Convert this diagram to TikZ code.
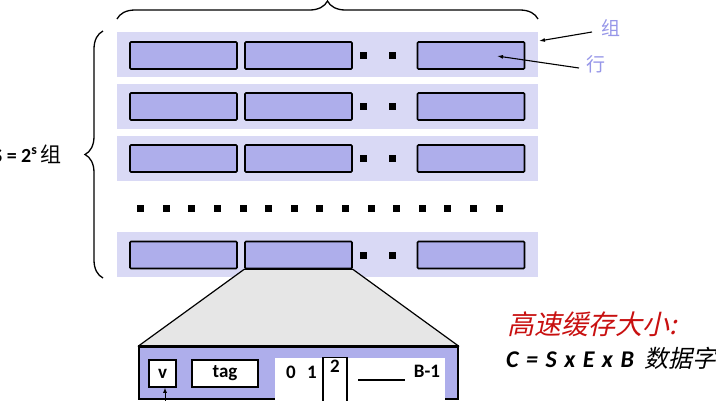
\documentclass[tikz,border=0pt]{standalone}
\usepackage{fontspec}
\setmainfont{Carlito}
\newfontfamily\cjk{Noto Sans CJK SC}
\newfontfamily\cjkit{Noto Sans CJK SC}[FakeSlant=0.22]
\usetikzlibrary{decorations.pathreplacing,arrows.meta}
\definecolor{rowbg}{RGB}{217,217,245}
\definecolor{cellfill}{RGB}{174,174,235}
\definecolor{trapgray}{RGB}{230,230,230}
\definecolor{lblue}{RGB}{150,150,232}
\definecolor{cred}{RGB}{200,16,16}
\tikzset{
  rowbox/.style={fill=rowbg,inner sep=0pt,minimum width=421pt,minimum height=45pt},
  cell/.style={fill=cellfill,draw=black,line width=1.6pt,rounded corners=1pt,inner sep=0pt,minimum width=107pt,minimum height=27pt},
  sq/.style={fill=black,inner sep=0pt,minimum size=7pt},
  wbox/.style={fill=white,draw=black,line width=1.5pt,inner sep=0pt},
  brc/.style={decorate,decoration={brace,amplitude=18pt},line width=1.3pt},
  arr/.style={-{Latex[length=6pt,width=4pt]},line width=1.1pt},
  btxt/.style={font=\fontsize{19}{19}\selectfont\bfseries,inner sep=0pt}
}
\newcommand{\gsp}{\hspace{7.5pt}}
\begin{document}
\begin{tikzpicture}[x=1pt,y=-1pt]
\useasboundingbox (0,0) rectangle (716,400);
% rows
\foreach \r/\y in {1/54.5,2/106,3/158,4/254.5}{
  \node[rowbox] (row\r) at (327.5,\y) {};
}
\foreach \r/\y in {1/55.5,2/106.5,3/158.5,4/255}{
  \node[cell] (c\r1) at (183.5,\y) {};
  \node[cell] (c\r2) at (298.5,\y) {};
  \node[cell] (c\r3) at (471,\y) {};
  \node[sq] (da\r) at (363,\y) {};
  \node[sq] (db\r) at (392,\y) {};
}
% middle dots
\foreach \i in {0,...,14}{
  \node[sq] (m\i) at ({140.7+25.6*\i},208) {};
}
% braces
\coordinate (tbL) at (117,19);
\coordinate (tbR) at (538,19);
\draw[brc] (tbL) -- (tbR);
\coordinate (lbB) at (103,278);
\coordinate (lbT) at (103,31);
\draw[brc] (lbB) -- (lbT);
\node[anchor=east,inner sep=0pt] (slbl) at (62,154) {\fontsize{20}{20}\selectfont\bfseries S = 2\textsuperscript{s}\,{\mdseries\cjk\fontsize{21}{21}\selectfont 组}};
% labels
\node[inner sep=0pt,text=lblue] (zu) at (611,28) {\cjk\fontsize{19}{19}\selectfont 组};
\node[inner sep=0pt,text=lblue] (hang) at (596,64) {\cjk\fontsize{19}{19}\selectfont 行};
\coordinate (zuS) at (592,32);
\coordinate (zuE) at (539,41);
\draw[arr] (zuS) -- (zuE);
\coordinate (hS) at (579,68);
\coordinate (hE) at (497,56);
\draw[arr] (hS) -- (hE);
% bottom box
\node[fill=cellfill,draw=black,line width=1.6pt,inner sep=0pt,minimum width=319pt,minimum height=52pt] (bb) at (298.5,373) {};
\filldraw[fill=trapgray,line width=1.2pt,line join=round] (c42.south west) -- (c42.south east) -- (bb.north east) -- (bb.north west) -- cycle;
\draw[line width=1.6pt] (bb.north west) -- (bb.north east);
\node[fill=white,inner sep=0pt,minimum width=170pt,minimum height=46pt,anchor=north west] (data) at (275,358) {};
\node[wbox,minimum width=27pt,minimum height=27pt] (v) at (162.5,373.5) {};
\node[btxt] (vt) at (v.center) {v};
\node[wbox,minimum width=66pt,minimum height=27pt] (tag) at (225,373.5) {};
\node[btxt] (tagt) at (tag.center) {tag};
\node[draw=black,line width=1.3pt,fill=white,inner sep=0pt,minimum width=24pt,minimum height=50pt,anchor=north] (b2) at (335,357) {};
\node[btxt] (t0) at (291,372) {0};
\node[btxt] (t1) at (312,372) {1};
\node[btxt] (t2) at (335,366) {2};
\coordinate (lnA) at (358,380);
\coordinate (lnB) at (405,380);
\draw[line width=2pt] (lnA) -- (lnB);
\node[btxt] (tb) at (427,371) {B-1};
\coordinate (vA) at (165,402);
\draw[-{Latex[length=5pt,width=4pt]},line width=1pt] (vA) -- (v.south -| vA);
% formula
\node[anchor=base west,inner sep=0pt,text=cred] (f1) at (507,334) {\cjkit\fontsize{27}{27}\selectfont 高速缓存大小:};
\node[anchor=base west,inner sep=0pt] (f2) at (506,367) {\fontsize{24}{24}\selectfont\bfseries\itshape C\gsp=\gsp S\gsp x\gsp E\gsp x\gsp B\hspace{11pt}{\mdseries\upshape\cjkit\fontsize{24}{24}\selectfont 数据字节}};
\end{tikzpicture}
\end{document}
